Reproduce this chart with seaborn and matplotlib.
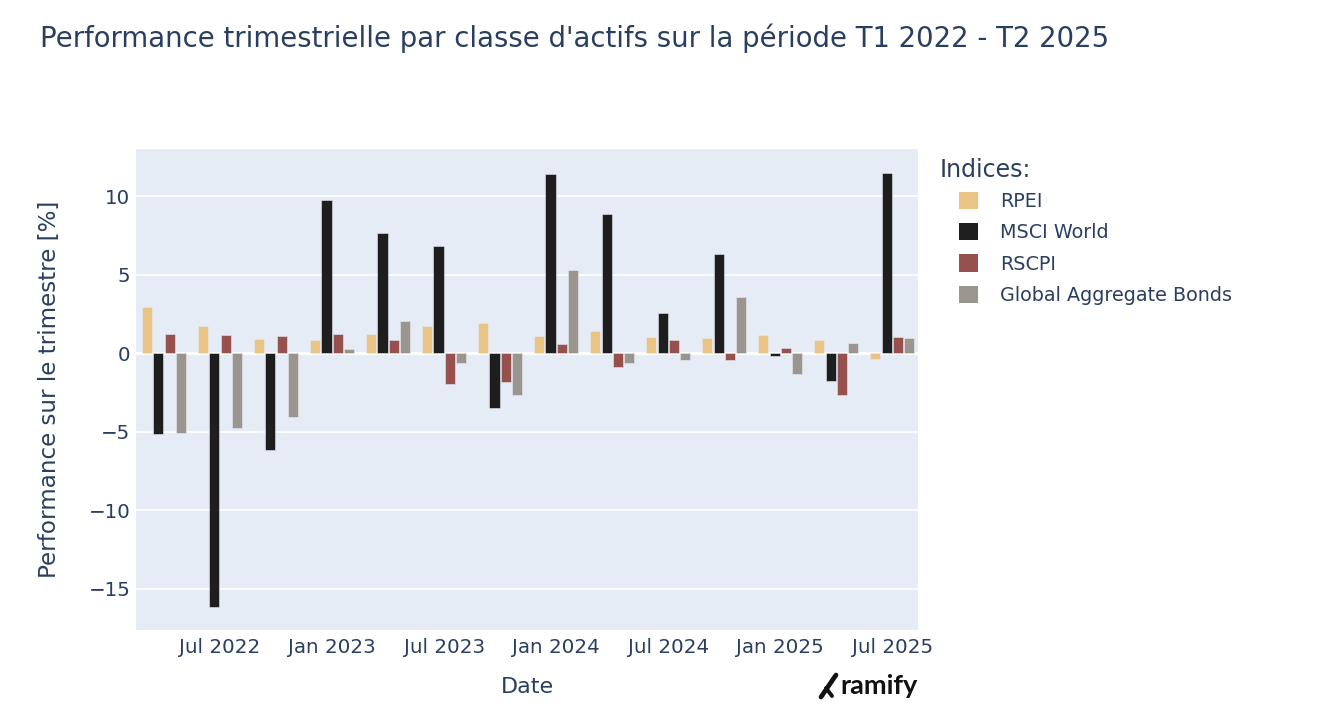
import numpy as np
import pandas as pd
import seaborn as sns
import matplotlib
matplotlib.use("Agg")
import matplotlib.pyplot as plt
from matplotlib.patches import Patch
from matplotlib.lines import Line2D

quarters = ["T1 2022", "T2 2022", "T3 2022", "T4 2022",
            "T1 2023", "T2 2023", "T3 2023", "T4 2023",
            "T1 2024", "T2 2024", "T3 2024", "T4 2024",
            "T1 2025", "T2 2025"]
rpei = [2.94, 1.74, 0.89, 0.81, 1.21, 1.70, 1.94, 1.10, 1.43, 1.02, 0.94, 1.17, 0.83, -0.40]
msci = [-5.15, -16.2, -6.19, 9.74, 7.68, 6.79, -3.47, 11.40, 8.85, 2.57, 6.32, -0.19, -1.81, 11.45]
rscpi = [1.21, 1.15, 1.10, 1.19, 0.81, -1.96, -1.87, 0.55, -0.91, 0.81, -0.45, 0.32, -2.68, 1.04]
bonds = [-5.10, -4.80, -4.06, 0.26, 2.06, -0.64, -2.64, 5.32, -0.64, -0.47, 3.60, -1.34, 0.64, 0.96]

series_names = ["RPEI", "MSCI World", "RSCPI", "Global Aggregate Bonds"]
series_colors = ["#E9C484", "#1E1E1E", "#96504D", "#9A958F"]
tick_labels = ["Jul 2022", "Jan 2023", "Jul 2023", "Jan 2024", "Jul 2024", "Jan 2025", "Jul 2025"]
tick_quarters = ["T2 2022", "T4 2022", "T2 2023", "T4 2023", "T2 2024", "T4 2024", "T2 2025"]

df = pd.DataFrame({
    "Trimestre": quarters * 4,
    "Indice": sum([[n] * len(quarters) for n in series_names], []),
    "Performance": rpei + msci + rscpi + bonds,
})

sns.set_theme(style="white")
plt.rcParams["font.family"] = ["DejaVu Sans"]
text_color = "#2a3f5f"

fig = plt.figure(figsize=(13.18, 7.22), dpi=100)
ax = fig.add_axes([136 / 1318, 1 - 630 / 722, (918 - 136) / 1318, (630 - 149) / 722])
ax.set_facecolor("#E5ECF6")

sns.barplot(data=df, x="Trimestre", y="Performance", hue="Indice",
            hue_order=series_names, order=quarters,
            palette=dict(zip(series_names, series_colors)),
            width=0.8, gap=0.1, ax=ax, legend=False,
            edgecolor="#E5ECF6", linewidth=0.4, saturation=1)

ax.set_xlim(-0.5, 13.46)
ax.set_ylim(-17.64, 13.0)
ax.set_yticks([-15, -10, -5, 0, 5, 10])
ax.set_yticklabels(["\u221215", "\u221210", "\u22125", "0", "5", "10"])
ax.set_xticks([quarters.index(q) for q in tick_quarters])
ax.set_xticklabels(tick_labels)
ax.tick_params(axis="both", colors=text_color, labelsize=14.3, length=0, pad=6)
ax.tick_params(axis="y", pad=4)
ax.grid(axis="y", color="white", linewidth=1.2)
ax.grid(axis="x", visible=False)
ax.axhline(0, color="white", linewidth=2.2, zorder=0.6)
ax.set_axisbelow(True)
for s in ax.spines.values():
    s.set_visible(False)

ax.set_xlabel("Date", fontsize=16, color=text_color, labelpad=14)
ax.set_ylabel("Performance sur le trimestre [%]", fontsize=16.6, color=text_color, labelpad=20)

fig.text(40 / 1318, 1 - 38 / 722,
         "Performance trimestrielle par classe d'actifs sur la p\u00e9riode T1 2022 - T2 2025",
         fontsize=19.8, color=text_color, va="center", ha="left")

# legend
fig.text(940 / 1318, 1 - 170 / 722, "Indices:", fontsize=17, color=text_color,
         ha="left", va="center")
handles = [Patch(facecolor=c, edgecolor="none") for c in series_colors]
leg = fig.legend(handles, series_names, loc="upper left",
                 bbox_to_anchor=(959 / 1318, 1 - 192 / 722), frameon=False,
                 fontsize=13.8, handlelength=1.0, handleheight=1.0,
                 handletextpad=1.15, labelspacing=0.63, borderpad=0, borderaxespad=0,
                 labelcolor=text_color)

# ramify logo
fig.text(918 / 1318, 1 - 686 / 722, "ramify", fontsize=19.5, fontweight="bold",
         family=["Lato", "DejaVu Sans"], color="#111111", ha="right", va="center")
fig.add_artist(Line2D([821 / 1318, 836 / 1318], [1 - 697 / 722, 1 - 675 / 722],
                      transform=fig.transFigure, color="#111111", linewidth=3.4,
                      solid_capstyle="round"))
fig.add_artist(Line2D([826 / 1318, 832 / 1318], [1 - 688 / 722, 1 - 696 / 722],
                      transform=fig.transFigure, color="#111111", linewidth=2.8,
                      solid_capstyle="round"))

fig.savefig("out.png", dpi=100, facecolor="white")
